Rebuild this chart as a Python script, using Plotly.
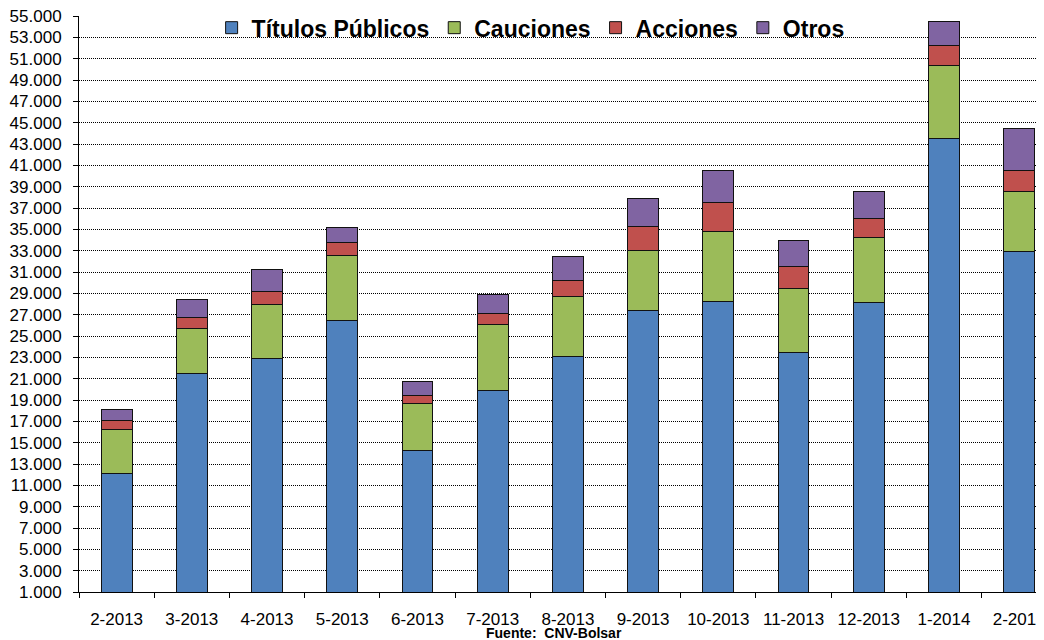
import plotly.graph_objects as go

months = ["2-2013", "3-2013", "4-2013", "5-2013", "6-2013", "7-2013", "8-2013",
          "9-2013", "10-2013", "11-2013", "12-2013", "1-2014", "2-2014"]
titulos = [12150, 21440, 22870, 26500, 14220, 19910, 23090, 27410, 28250, 23410, 28160, 43560, 32880]
cauciones = [4050, 4220, 5100, 6090, 4440, 6180, 5600, 5620, 6530, 6000, 6090, 6820, 5710]
acciones = [900, 1120, 1220, 1190, 720, 1040, 1530, 2250, 2750, 2060, 1750, 1870, 1970]
otros = [1050, 1600, 2060, 1410, 1340, 1780, 2280, 2600, 2940, 2500, 2590, 2280, 3850]

series = [
    ("Títulos Públicos", titulos, "#4F81BD"),
    ("Cauciones", cauciones, "#9BBB59"),
    ("Acciones", acciones, "#C0504D"),
    ("Otros", otros, "#8064A2"),
]

fig = go.Figure()
for name, vals, color in series:
    fig.add_trace(go.Bar(
        x=months, y=vals, name=name,
        marker=dict(color=color, line=dict(color="#111111", width=1)),
    ))

fig.add_annotation(
    text="Fuente:  CNV-Bolsar", xref="paper", yref="paper",
    x=0.492, y=-0.071, xanchor="center", yanchor="middle", showarrow=False,
    font=dict(family="Liberation Sans, Arial", size=14, color="#000000", weight="bold"),
)

# the page body keeps its default 8px margin, so the figure is offset by 8px
fig.update_layout(
    barmode="stack",
    bargap=0.59,
    width=1036,
    height=632,
    margin=dict(l=71, r=0, t=8, b=48, autoexpand=False),
    paper_bgcolor="white",
    plot_bgcolor="white",
    separators=",.",
    font=dict(family="Liberation Sans, Arial", size=17, color="#000000"),
    showlegend=True,
    legend=dict(
        orientation="h", x=0.468, xanchor="center", y=1.017, yanchor="top",
        bgcolor="rgba(0,0,0,0)",
        font=dict(family="Liberation Sans, Arial", size=23, color="#000000", weight="bold"),
        itemwidth=30, traceorder="normal",
    ),
    xaxis=dict(
        type="category", range=[-0.5, 12.33], automargin=False,
        showline=True, linecolor="#000000", linewidth=1,
        ticks="outside", tickson="boundaries", ticklen=5, tickcolor="#000000",
        ticklabelstandoff=12, showgrid=False, ticklabeloverflow="allow",
    ),
    yaxis=dict(
        range=[1000, 55000], tick0=1000, dtick=2000, tickformat=",d", automargin=False,
        showline=True, linecolor="#000000", linewidth=1,
        ticks="outside", ticklen=5, tickcolor="#000000",
        showgrid=True, gridcolor="#000000", gridwidth=1, griddash="1px,1px",
        zeroline=False, ticklabelstandoff=8, ticklabeloverflow="allow",
    ),
)

fig.write_html("out.html")
